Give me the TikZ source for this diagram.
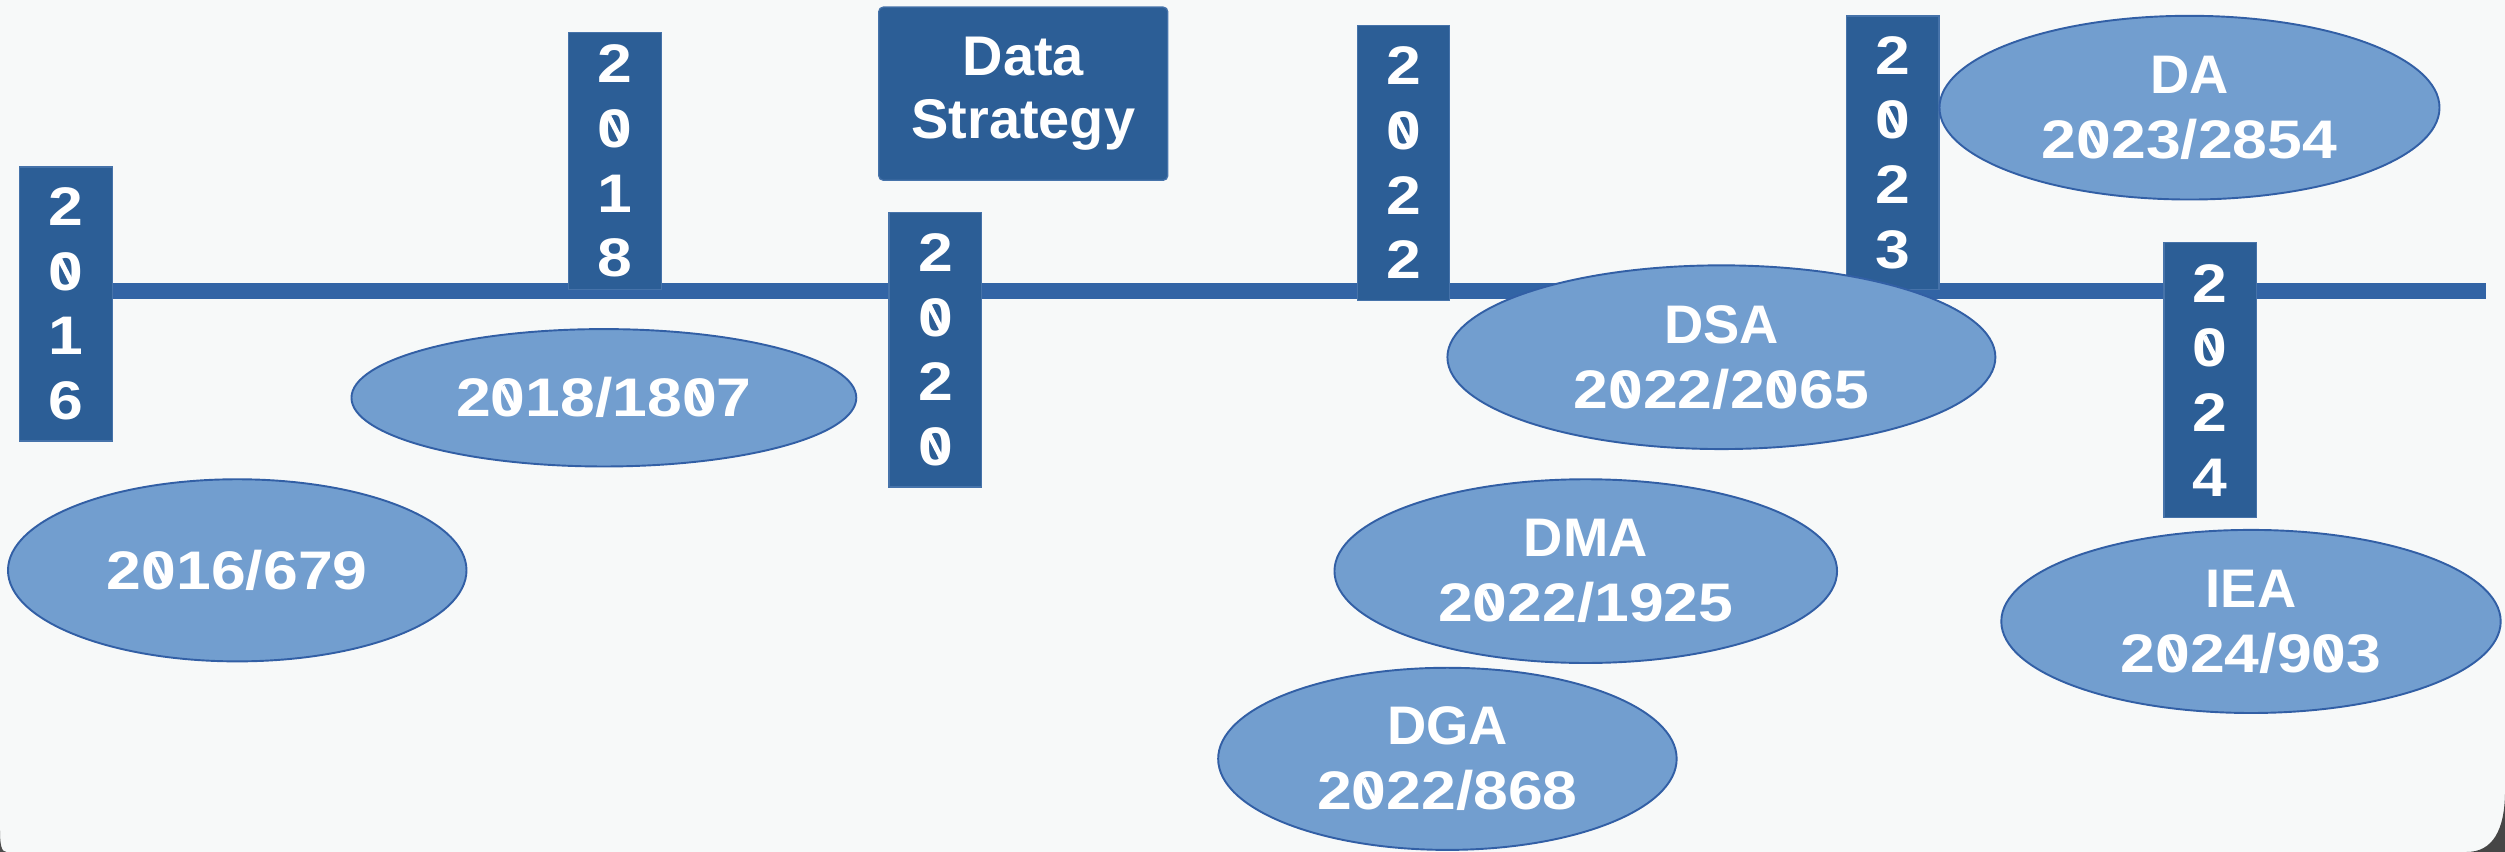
\documentclass[tikz,border=0pt]{standalone}
\usepackage{fontspec}
\usepackage{graphicx}
\setmainfont{Liberation Sans}
\newfontfamily\digf{Liberation Sans}[FakeStretch=1.15]
\usetikzlibrary{shapes.geometric}
\definecolor{bgcol}{RGB}{247,249,249}
\definecolor{boxblue}{RGB}{44,94,150}
\definecolor{boxedge}{RGB}{70,115,170}
\definecolor{linecol}{RGB}{50,100,165}
\definecolor{ellfill}{RGB}{114,158,207}
\definecolor{elledge}{RGB}{50,95,165}
\newcommand\zr{\ooalign{0\cr\hidewidth\raisebox{0.11em}{\rotatebox[origin=c]{27}{\rule{0.09em}{0.48em}}}\hidewidth\cr}}
\newcommand\dg[1]{{\digf\bfseries #1}}
\begin{document}
\begin{tikzpicture}[x=0.5pt,y=-0.5pt,
  yearbox/.style={rectangle, fill=boxblue, draw=boxedge, line width=0.4pt,
    minimum width=29pt, minimum height=86pt, inner sep=0pt, align=center,
    text=white, font=\digf\bfseries\fontsize{17}{20.25}\selectfont},
  titlebox/.style={rectangle, rounded corners=1.5pt, fill=boxblue, draw=boxedge, line width=0.4pt,
    minimum width=90.5pt, minimum height=54.25pt, inner sep=0pt, align=center,
    text=white, font=\bfseries\fontsize{17.5}{20}\selectfont},
  law/.style={ellipse, fill=ellfill, draw=elledge, line width=0.6pt, inner sep=0pt,
    align=center, text=white, font=\bfseries\fontsize{17}{20.4}\selectfont},
  timeline/.style={draw=linecol, line width=4.9pt}
]
\useasboundingbox (0,0) rectangle (1568,533.3);
\fill[bgcol] (0,0) rectangle (1568,533.3);
\fill[gray!55!black] (1568,495) .. controls (1568,520) and (1560,533.3) .. (1544,533.3) -- (1568,533.3) -- cycle;
\fill[gray!60!black] (0,520) .. controls (0,529) and (1,533.3) .. (4,533.3) -- (0,533.3) -- cycle;

\coordinate (tlstart) at (41.25,182);
\coordinate (tlend) at (1556,182);
\draw[timeline] (tlstart) -- (tlend);

\node[yearbox, minimum height=85.75pt] (y2016) at (41.25,190.25) {2\\\zr\\1\\6};
\node[yearbox, minimum height=80.5pt] (y2018) at (385,100.85) {2\\\zr\\1\\8};
\node[titlebox] (ds) at (640.5,58.65) {Data\\Strategy};
\node[yearbox] (y2020) at (585.5,218.85) {2\\\zr\\2\\\zr};
\node[yearbox] (y2022) at (878.5,102) {2\\\zr\\2\\2};
\node[yearbox, minimum height=85.5pt] (y2023) at (1184.75,95.5) {2\\\zr\\2\\3};
\node[yearbox] (y2024) at (1383.5,238) {2\\\zr\\2\\4};

\node[law, minimum width=143.5pt, minimum height=57pt] (e2016) at (148.5,357) {\dg{2\zr16/679}};
\node[law, minimum width=158pt, minimum height=43pt] (e2018) at (378,249) {\dg{2\zr18/18\zr7}};
\node[law, minimum width=171.5pt, minimum height=57.5pt] (dsa) at (1077.5,223.6) {DSA\\\dg{2\zr22/2\zr65}};
\node[law, minimum width=157.3pt, minimum height=57.5pt] (dma) at (992.6,357.5) {DMA\\\dg{2\zr22/1925}};
\node[law, minimum width=143.5pt, minimum height=57pt] (dga) at (906,475) {DGA\\\dg{2\zr22/868}};
\node[law, minimum width=156.5pt, minimum height=57.5pt] (da) at (1370.5,67.4) {DA\\\dg{2\zr23/2854}};
\node[law, minimum width=156.3pt, minimum height=57.3pt] (iea) at (1409,389) {IEA\\\dg{2\zr24/9\zr3}};
\end{tikzpicture}
\end{document}
